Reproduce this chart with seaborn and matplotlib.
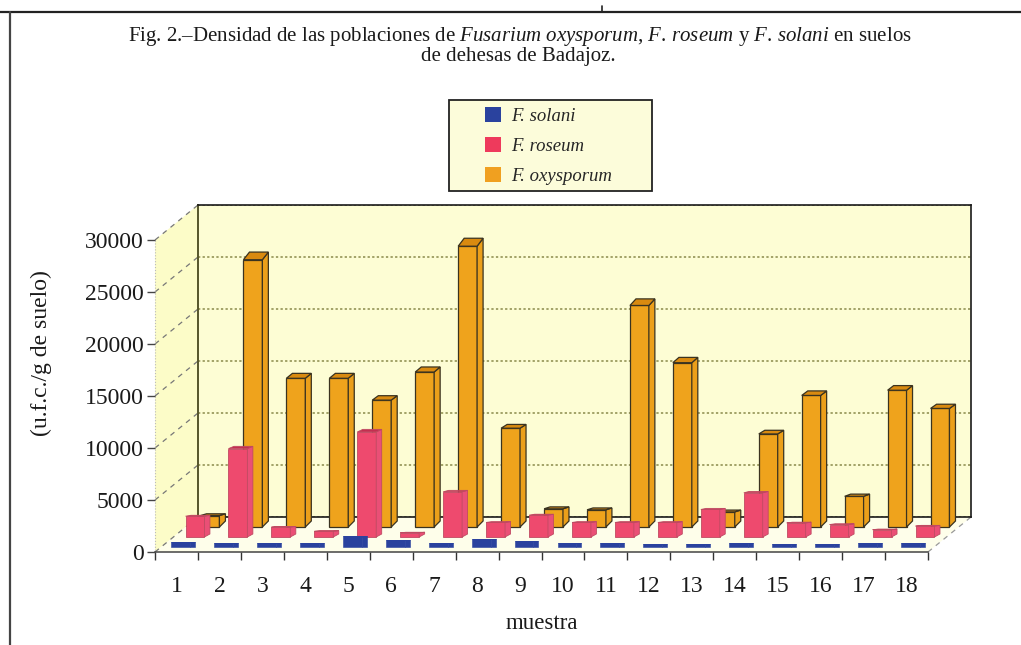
import matplotlib
matplotlib.use("Agg")
import matplotlib.pyplot as plt
from matplotlib.patches import Polygon, Rectangle, Patch
import seaborn as sns

muestras = [str(i) for i in range(1, 19)]
f_oxysporum = [1100, 25700, 14300, 14300, 12200, 14900, 27000, 9500, 1750, 1650,
               21300, 15800, 1450, 8950, 12650, 2950, 13150, 11400]
f_roseum = [2000, 8500, 950, 550, 10100, 400, 4350, 1400, 2100, 1400,
            1400, 1400, 2650, 4250, 1350, 1200, 700, 1050]
f_solani = [480, 380, 380, 380, 1050, 700, 380, 800, 550, 430,
            430, 330, 330, 380, 330, 280, 380, 380]
yticks = [0, 5000, 10000, 15000, 20000, 25000, 30000]

W, H = 1021, 645
# front plane of the fake 3d box, in pixels
X0, X1, Y0, YTOP = 155, 928, 552, 240
BACK_DX, BACK_DY = 43, -35
YMAX = 30000

sns.set_theme(style="white")
plt.rcParams['font.family'] = ['Liberation Serif', 'DejaVu Serif']
plt.rcParams['mathtext.fontset'] = 'custom'
plt.rcParams['mathtext.rm'] = 'Liberation Serif'
plt.rcParams['mathtext.it'] = 'Liberation Serif:italic'

fig = plt.figure(figsize=(W / 100, H / 100), dpi=100, facecolor='white')


def plane(dx, dy, z):
    ax = fig.add_axes([(X0 + dx) / W, 1 - (Y0 + dy) / H, (X1 - X0) / W, (Y0 - YTOP) / H], zorder=z)
    ax.set_xlim(-0.5, 17.5)
    ax.set_ylim(0, YMAX)
    return ax


def bars3d(ax, values, front, side, top, edge, lw, dx_px, base_rise, top_rise, rise_slope):
    sns.barplot(x=muestras, y=values, color=front, saturation=1, width=0.44,
                edgecolor=edge, linewidth=lw, ax=ax)
    ax.set_xlim(-0.5, 17.5)
    ax.set_ylim(0, YMAX)
    ax.axis('off')
    px_val = YMAX / (Y0 - YTOP)
    ddx = dx_px / ((X1 - X0) / 18)
    for b in list(ax.patches):
        b.set_clip_on(False)
        x, w, h = b.get_x(), b.get_width(), b.get_height()
        # top face opens up with height, like a view from low down
        rise = (top_rise + rise_slope * h / px_val) * px_val
        ax.add_patch(Polygon([(x + w, 0), (x + w + ddx, base_rise * px_val), (x + w + ddx, h + rise), (x + w, h)],
                             fc=side, ec=edge, lw=lw, clip_on=False))
        ax.add_patch(Polygon([(x, h), (x + ddx, h + rise), (x + w + ddx, h + rise), (x + w, h)],
                             fc=top, ec=edge, lw=lw, clip_on=False))


# overlay in pixels for the page frame, side wall and floor
bg = fig.add_axes([0, 0, 1, 1], zorder=0)
bg.set_xlim(0, W)
bg.set_ylim(H, 0)
bg.axis('off')
bg.plot([0, W], [12, 12], color='#222222', lw=1.6)
bg.plot([10, 10], [12, H], color='#444444', lw=1.6)
bg.plot([602, 602], [6, 12], color='#222222', lw=1.2)

wall_y = Y0 + BACK_DY
bg.add_patch(Polygon([(X0, Y0), (X0 + BACK_DX, wall_y), (X0 + BACK_DX, wall_y - (Y0 - YTOP)), (X0, YTOP)],
                     fc='#fcfcc8', ec='none'))
bg.add_patch(Polygon([(X0, Y0), (X0 + BACK_DX, wall_y), (X1 + BACK_DX, wall_y), (X1, Y0)],
                     fc='#fefeea', ec='none'))
for v in yticks:
    py = Y0 - v / YMAX * (Y0 - YTOP)
    bg.plot([X0, X0 + BACK_DX], [py, py + BACK_DY], color='#777777', lw=0.9, ls=(0, (4, 4)))
bg.plot([X1, X1 + BACK_DX], [Y0, wall_y], color='#999999', lw=0.9, ls=(0, (4, 4)))
bg.plot([X0, X0], [YTOP, Y0], color='#bbbbbb', lw=0.8, ls=':')

# back wall
wall = plane(BACK_DX, BACK_DY, 1)
wall.set_facecolor('#fdfdd4')
wall.set_yticks(yticks)
wall.set_xticks([])
wall.tick_params(labelleft=False, length=0)
wall.grid(axis='y', color='#8a8a4a', lw=1.1, ls=(0, (1.5, 1.5)))
for s in ['top', 'right', 'bottom']:
    wall.spines[s].set_color('#1a1a1a')
    wall.spines[s].set_linewidth(1.2)
wall.spines['left'].set_color('#55552a')
wall.spines['left'].set_linewidth(1.4)
wall.spines['left'].set_linestyle((0, (1, 1)))

# the three rows of bars, back to front
ax_oxy = plane(33.5, -25, 2)
bars3d(ax_oxy, f_oxysporum, '#efa31c', '#eb9f1a', '#d98a10', '#3a3320', 0.9, 6, 6, 1.5, 0.023)
ax_ros = plane(18.5, -15, 3)
bars3d(ax_ros, f_roseum, '#ee4a6e', '#ea4f76', '#c42e50', '#c04a62', 0.6, 5.5, 3, 0.5, 0.02)
ax_sol = plane(4, -5, 4)
bars3d(ax_sol, f_solani, '#2a429e', '#2a429e', '#2a429e', '#2a429e', 0.4, 5, 0, 0, 0)

# front axis with ticks and labels
front = plane(0, 0, 5)
front.patch.set_visible(False)
sns.despine(ax=front, top=True, right=True, left=True)
front.spines['bottom'].set_color('#444444')
front.spines['bottom'].set_linewidth(1.1)
front.set_xticks([i - 0.5 for i in range(19)])
front.set_xticklabels([])
front.set_xticks(range(18), labels=muestras, minor=True)
front.tick_params(axis='x', which='major', bottom=True, length=6, width=1, color='#333333')
front.tick_params(axis='x', which='minor', bottom=False, length=0, labelsize=17, pad=17, labelcolor='#1a1a1a')
front.set_yticks(yticks)
front.tick_params(axis='y', left=True, length=6, width=1, color='#444444', labelsize=17, pad=2, labelcolor='#1a1a1a')
front.set_xlabel('muestra', fontsize=16.5, labelpad=12, color='#1a1a1a')
fig.text(41 / W, 1 - 353 / H, '(u.f.c./g de suelo)', rotation=90, fontsize=17,
         ha='center', va='center', color='#1a1a1a')

# title
fig.text(520 / W, 1 - 36 / H,
         r'Fig. 2.–Densidad de las poblaciones de $\mathit{Fusarium\ oxysporum}$, '
         r'$\mathit{F.\,roseum}$ y $\mathit{F.\,solani}$ en suelos',
         fontsize=15, ha='center', va='center', color='#1a1a1a')
fig.text(518 / W, 1 - 56 / H, 'de dehesas de Badajoz.', fontsize=15, ha='center', va='center', color='#1a1a1a')

# legend box
bg.add_patch(Rectangle((449, 100), 203, 91, fc='#fcfcda', ec='#222222', lw=1.3))
handles = [Patch(fc='#2a429e', ec='none', label='F. solani'),
           Patch(fc='#ee3a5c', ec='none', label='F. roseum'),
           Patch(fc='#f0a020', ec='none', label='F. oxysporum')]
leg = fig.legend(handles=handles, loc='center left', bbox_to_anchor=(476 / W, 1 - 146 / H), frameon=False,
                 prop={'size': 13.5, 'style': 'italic', 'family': 'Liberation Serif'},
                 handlelength=0.85, handleheight=0.85, handletextpad=0.5, labelspacing=0.62, borderpad=0)
leg.set_zorder(6)

fig.savefig('out.png', dpi=100, facecolor=fig.get_facecolor())
